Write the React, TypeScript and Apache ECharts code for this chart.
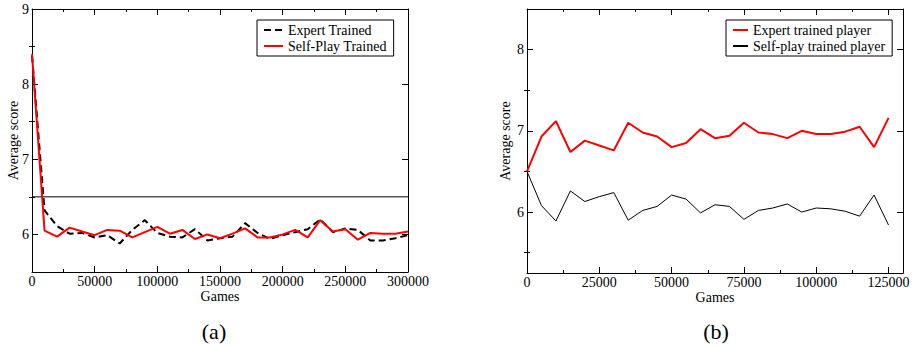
import React, { useEffect, useRef } from "react";
import * as echarts from "echarts";

// ---------- data ----------
const gamesA = [
  0, 10000, 20000, 30000, 40000, 50000, 60000, 70000, 80000, 90000, 100000,
  110000, 120000, 130000, 140000, 150000, 160000, 170000, 180000, 190000, 200000,
  210000, 220000, 230000, 240000, 250000, 260000, 270000, 280000, 290000, 300000,
];
const expertTrainedA = [
  8.38, 6.32, 6.11, 6.01, 6.02, 5.96, 5.99, 5.88, 6.06, 6.19, 6.02,
  5.97, 5.96, 6.07, 5.92, 5.95, 5.97, 6.15, 6.02, 5.94, 5.99,
  6.03, 6.07, 6.2, 6.03, 6.08, 6.06, 5.92, 5.92, 5.95, 5.99,
];
const selfPlayTrainedA = [
  8.4, 6.05, 5.97, 6.09, 6.04, 5.99, 6.06, 6.05, 5.96, 6.03, 6.1,
  6.01, 6.06, 5.94, 6.0, 5.95, 6.01, 6.08, 5.96, 5.96, 6.0,
  6.06, 5.96, 6.19, 6.04, 6.07, 5.93, 6.02, 6.01, 6.01, 6.04,
];
const baselineA = [6.5, 6.5];
const baselineGamesA = [0, 300000];

const gamesB = [
  0, 5000, 10000, 15000, 20000, 25000, 30000, 35000, 40000, 45000, 50000,
  55000, 60000, 65000, 70000, 75000, 80000, 85000, 90000, 95000, 100000,
  105000, 110000, 115000, 120000, 125000,
];
const expertPlayerB = [
  6.5, 6.93, 7.12, 6.74, 6.88, 6.82, 6.76, 7.1, 6.98, 6.93, 6.8,
  6.85, 7.02, 6.91, 6.94, 7.1, 6.98, 6.96, 6.91, 7.0, 6.96,
  6.96, 6.99, 7.05, 6.8, 7.16,
];
const selfPlayPlayerB = [
  6.5, 6.08, 5.89, 6.26, 6.13, 6.19, 6.24, 5.9, 6.02, 6.07, 6.21,
  6.16, 5.99, 6.09, 6.07, 5.91, 6.02, 6.05, 6.1, 6.0, 6.05,
  6.04, 6.01, 5.95, 6.21, 5.84,
];

const xLabelsA = [0, 50000, 100000, 150000, 200000, 250000, 300000];
const xMinorA = [25000, 75000, 125000, 175000, 225000, 275000];
const yLabelsA = [6, 7, 8, 9];
const yMinorA = [6.5, 7.5, 8.5];

const xLabelsB = [0, 25000, 50000, 75000, 100000, 125000];
const xMinorB = [12500, 37500, 62500, 87500, 112500];
const yLabelsB = [6, 7, 8];
const yMinorB = [5.5, 6.5, 7.5];

const legendA = ["Expert Trained", "Self-Play Trained"];
const legendB = ["Expert trained player", "Self-play trained player"];
const panelLabels = ["(a)", "(b)"];

// ---------- styling ----------
const FONT = "Liberation Serif";
const BLACK = "#000000";
const RED = "#ff0000";

const zip = (xs: number[], ys: number[]) => xs.map((x, i) => [x, ys[i]]);
const plain = (v: number) => String(v);

function xAxes(gridIndex: number, min: number, max: number, labels: number[], minor: number[]) {
  const base = {
    gridIndex,
    type: "value",
    min,
    max,
    splitLine: { show: false },
  };
  return [
    {
      ...base,
      position: "bottom",
      axisLine: { show: true, onZero: false, lineStyle: { color: BLACK, width: 1 } },
      axisTick: { show: true, inside: true, length: 6, customValues: labels, lineStyle: { color: BLACK } },
      axisLabel: {
        show: true,
        customValues: labels,
        formatter: plain,
        margin: 2,
        color: BLACK,
        fontFamily: FONT,
        fontSize: 14,
      },
      name: "Games",
      nameLocation: "middle",
      nameGap: 17,
      nameMoveOverlap: false,
      nameTextStyle: { color: BLACK, fontFamily: FONT, fontSize: 14 },
    },
    {
      ...base,
      position: "bottom",
      axisLine: { show: false },
      axisTick: { show: true, inside: true, length: 3, customValues: minor, lineStyle: { color: BLACK } },
      axisLabel: { show: false },
    },
    {
      ...base,
      position: "top",
      axisLine: { show: true, onZero: false, lineStyle: { color: BLACK, width: 1 } },
      axisTick: { show: true, inside: true, length: 6, customValues: labels, lineStyle: { color: BLACK } },
      axisLabel: { show: false },
    },
    {
      ...base,
      position: "top",
      axisLine: { show: false },
      axisTick: { show: true, inside: true, length: 3, customValues: minor, lineStyle: { color: BLACK } },
      axisLabel: { show: false },
    },
  ];
}

function yAxes(gridIndex: number, min: number, max: number, labels: number[], minor: number[], nameGap: number) {
  const base = {
    gridIndex,
    type: "value",
    min,
    max,
    splitLine: { show: false },
  };
  return [
    {
      ...base,
      position: "left",
      axisLine: { show: true, onZero: false, lineStyle: { color: BLACK, width: 1 } },
      axisTick: { show: true, inside: true, length: 6, customValues: labels, lineStyle: { color: BLACK } },
      axisLabel: {
        show: true,
        customValues: labels,
        formatter: plain,
        margin: 3,
        color: BLACK,
        fontFamily: FONT,
        fontSize: 14,
      },
      name: "Average score",
      nameLocation: "middle",
      nameGap,
      nameMoveOverlap: false,
      nameTextStyle: { color: BLACK, fontFamily: FONT, fontSize: 14 },
    },
    {
      ...base,
      position: "left",
      axisLine: { show: false },
      axisTick: { show: true, inside: true, length: 3, customValues: minor, lineStyle: { color: BLACK } },
      axisLabel: { show: false },
    },
    {
      ...base,
      position: "right",
      axisLine: { show: true, onZero: false, lineStyle: { color: BLACK, width: 1 } },
      axisTick: { show: true, inside: true, length: 6, customValues: labels, lineStyle: { color: BLACK } },
      axisLabel: { show: false },
    },
    {
      ...base,
      position: "right",
      axisLine: { show: false },
      axisTick: { show: true, inside: true, length: 3, customValues: minor, lineStyle: { color: BLACK } },
      axisLabel: { show: false },
    },
  ];
}

const legendCommon = {
  orient: "vertical",
  top: 20,
  backgroundColor: "#ffffff",
  borderColor: BLACK,
  borderWidth: 1,
  borderRadius: 0,
  itemHeight: 14,
  itemGap: 2,
  selectedMode: false,
  itemStyle: { opacity: 0 },
  textStyle: { color: BLACK, fontFamily: FONT, fontSize: 14 },
};

export default function App() {
  const ref = useRef<HTMLDivElement>(null);

  useEffect(() => {
    if (!ref.current) return;
    const chart = echarts.init(ref.current, null, { renderer: "svg" });
    const option = {
      animation: false,
      backgroundColor: "#ffffff",
      grid: [
        { left: 32, top: 9, width: 376, height: 263 },
        { left: 527, top: 9, width: 376, height: 264 },
      ],
      xAxis: [
        ...xAxes(0, 0, 300000, xLabelsA, xMinorA),
        ...xAxes(1, 0, 130000, xLabelsB, xMinorB),
      ],
      yAxis: [
        ...yAxes(0, 5.5, 9, yLabelsA, yMinorA, 12),
        ...yAxes(1, 5.25, 8.5, yLabelsB, yMinorB, 15),
      ],
      legend: [
        { ...legendCommon, data: legendA, left: 257, itemWidth: 19, padding: [3, 7, 3, 6] },
        { ...legendCommon, data: legendB, left: 726, itemWidth: 15, padding: [3, 7, 3, 6] },
      ],
      graphic: [
        {
          type: "text",
          x: 214,
          y: 331,
          style: {
            text: panelLabels[0],
            fill: BLACK,
            fontFamily: FONT,
            fontSize: 22,
            align: "center",
            verticalAlign: "middle",
          },
        },
        {
          type: "text",
          x: 716,
          y: 331,
          style: {
            text: panelLabels[1],
            fill: BLACK,
            fontFamily: FONT,
            fontSize: 22,
            align: "center",
            verticalAlign: "middle",
          },
        },
      ],
      series: [
        {
          name: "baseline",
          type: "line",
          xAxisIndex: 0,
          yAxisIndex: 0,
          data: zip(baselineGamesA, baselineA),
          symbol: "none",
          silent: true,
          lineStyle: { color: BLACK, width: 1 },
          itemStyle: { color: BLACK },
        },
        {
          name: legendA[0],
          type: "line",
          xAxisIndex: 0,
          yAxisIndex: 0,
          data: zip(gamesA, expertTrainedA),
          symbol: "none",
          lineStyle: { color: BLACK, width: 2, type: [7, 4] },
          itemStyle: { color: BLACK },
        },
        {
          name: legendA[1],
          type: "line",
          xAxisIndex: 0,
          yAxisIndex: 0,
          data: zip(gamesA, selfPlayTrainedA),
          symbol: "none",
          lineStyle: { color: RED, width: 2 },
          itemStyle: { color: RED },
        },
        {
          name: legendB[0],
          type: "line",
          xAxisIndex: 4,
          yAxisIndex: 4,
          data: zip(gamesB, expertPlayerB),
          symbol: "none",
          lineStyle: { color: RED, width: 2 },
          itemStyle: { color: RED },
        },
        {
          name: legendB[1],
          type: "line",
          xAxisIndex: 4,
          yAxisIndex: 4,
          data: zip(gamesB, selfPlayPlayerB),
          symbol: "none",
          lineStyle: { color: BLACK, width: 1 },
          itemStyle: { color: BLACK },
        },
      ],
    };
    chart.setOption(option as any);
    return () => chart.dispose();
  }, []);

  return (
    <div
      ref={ref}
      style={{ position: "absolute", left: 0, top: 0, width: 914, height: 346, background: "#fff" }}
    />
  );
}
